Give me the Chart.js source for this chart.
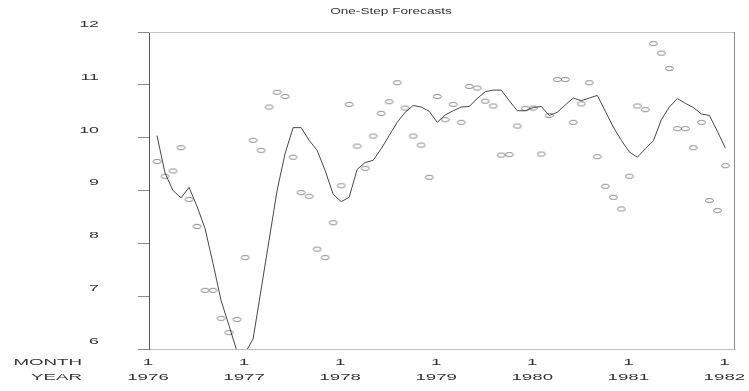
<!DOCTYPE html>
<html>
<head>
<meta charset="utf-8">
<script src="https://cdn.jsdelivr.net/npm/chart.js@4.4.0/dist/chart.umd.min.js"></script>
<style>
  html, body { margin: 0; padding: 0; background: #fff; }
  canvas { display: block; }
</style>
</head>
<body>
<canvas id="myChart" width="749" height="391"></canvas>
<script>
// months are counted from Jan 1976 = 0; the series start in Feb 1976
var firstMonth = 1;
var yearLabels = ['1976', '1977', '1978', '1979', '1980', '1981', '1982'];
var monthLabel = '1';
var yTicks = [6, 7, 8, 9, 10, 11, 12];

var forecast = [
    10.04, 9.33, 9.0, 8.86, 9.06, 8.70, 8.28, 7.62, 6.92, 6.44, 5.95,
    5.92, 6.19, 7.12, 8.06, 9.0, 9.7, 10.19, 10.19, 9.95, 9.76, 9.38, 8.93,
    8.79, 8.87, 9.4, 9.53, 9.57, 9.79, 10.04, 10.29, 10.48, 10.61, 10.58, 10.5,
    10.29, 10.43, 10.51, 10.58, 10.59, 10.74, 10.87, 10.9, 10.9, 10.7, 10.51, 10.51,
    10.57, 10.59, 10.42, 10.48, 10.62, 10.75, 10.7, 10.75, 10.8, 10.5, 10.2, 9.95,
    9.73, 9.63, 9.79, 9.94, 10.34, 10.58, 10.74, 10.65, 10.57, 10.45, 10.42, 10.12,
    9.8
];

var observed = [
    9.55, 9.27, 9.37, 9.81, 8.83, 8.32, 7.11, 7.11, 6.58, 6.31, 6.56,
    7.73, 9.95, 9.76, 10.58, 10.86, 10.78, 9.63, 8.96, 8.89, 7.89, 7.73, 8.39,
    9.09, 10.63, 9.84, 9.42, 10.03, 10.46, 10.68, 11.04, 10.56, 10.03, 9.86, 9.25,
    10.78, 10.34, 10.63, 10.29, 10.97, 10.94, 10.69, 10.6, 9.67, 9.68, 10.22, 10.55,
    10.56, 9.69, 10.42, 11.1, 11.1, 10.29, 10.64, 11.04, 9.64, 9.08, 8.87, 8.65,
    9.27, 10.6, 10.53, 11.78, 11.6, 11.31, 10.17, 10.17, 9.81, 10.29, 8.81, 8.62,
    9.47
];

// small open ellipse used as the point marker
var ellipse = document.createElement('canvas');
ellipse.width = 11;
ellipse.height = 7;
var ectx = ellipse.getContext('2d');
ectx.strokeStyle = '#555';
ectx.lineWidth = 0.7;
ectx.beginPath();
ectx.ellipse(5.5, 3.5, 4, 2.1, 0, 0, Math.PI * 2);
ectx.stroke();

var textFont = '8.5px "Liberation Sans", Arial, sans-serif';

// the reference text is squeezed vertically / stretched horizontally
function stretchText(ctx, text, x, y, align, sx) {
    ctx.save();
    ctx.translate(x, y);
    ctx.scale(sx, 1);
    ctx.textAlign = align;
    ctx.textBaseline = 'middle';
    ctx.fillText(text, 0, 0);
    ctx.restore();
}

var frameAndText = {
    id: 'frameAndText',
    afterDraw: function(chart) {
        var ctx = chart.ctx;
        var xs = chart.scales.x;
        var ys = chart.scales.y;
        var area = chart.chartArea;
        ctx.save();
        ctx.lineWidth = 1;
        ctx.strokeStyle = '#c4c4c4';
        ctx.beginPath();
        ctx.moveTo(area.left, area.top + 0.5);
        ctx.lineTo(area.right, area.top + 0.5);
        ctx.stroke();
        ctx.strokeStyle = '#8a8a8a';
        ctx.beginPath();
        ctx.moveTo(area.right - 0.5, area.top);
        ctx.lineTo(area.right - 0.5, area.bottom);
        ctx.stroke();

        ctx.fillStyle = '#333';
        ctx.font = textFont;
        stretchText(ctx, 'One-Step Forecasts', 391, 12, 'center', 1.6);
        yTicks.forEach(function(v) {
            stretchText(ctx, String(v), 99, ys.getPixelForValue(v) - 7.5, 'right', 2.1);
        });
        stretchText(ctx, 'MONTH', 82, 363, 'right', 2.2);
        stretchText(ctx, 'YEAR', 82, 378, 'right', 2.2);
        yearLabels.forEach(function(yr, i) {
            var px = xs.getPixelForValue(i * 12) - 1;
            stretchText(ctx, monthLabel, px, 363, 'center', 2.2);
            stretchText(ctx, yr, px, 378, 'center', 2.2);
        });
        ctx.restore();
    }
};

var ctx = document.getElementById('myChart').getContext('2d');
var myChart = new Chart(ctx, {
    type: 'line',
    data: {
        datasets: [
            {
                label: 'Forecast',
                data: forecast.map(function(v, i) { return {x: firstMonth + i, y: v}; }),
                borderColor: '#333',
                borderWidth: 0.9,
                pointRadius: 0,
                tension: 0,
                fill: false
            },
            {
                label: 'Observed',
                data: observed.map(function(v, i) { return {x: firstMonth + i, y: v}; }),
                showLine: false,
                pointStyle: ellipse,
                pointRadius: 4,
                borderWidth: 0
            }
        ]
    },
    options: {
        responsive: false,
        animation: false,
        devicePixelRatio: 1,
        layout: {
            padding: { top: 32, right: 14, left: 0, bottom: 0 }
        },
        plugins: {
            legend: { display: false },
            tooltip: { enabled: false },
            title: { display: false }
        },
        scales: {
            x: {
                type: 'linear',
                min: 0,
                max: 73.2,
                afterBuildTicks: function(s) {
                    s.ticks = yearLabels.map(function(y, i) { return {value: i * 12}; });
                },
                grid: { display: false },
                border: { display: true, color: '#bdbdbd' },
                ticks: { display: false },
                afterFit: function(s) { s.height = 42; }
            },
            y: {
                type: 'linear',
                min: 6,
                max: 12,
                afterBuildTicks: function(s) {
                    s.ticks = yTicks.map(function(v) { return {value: v}; });
                },
                grid: { drawOnChartArea: false, drawTicks: true, tickLength: 11, color: '#8a8a8a' },
                border: { display: true, color: '#555' },
                ticks: { color: 'rgba(0,0,0,0)', padding: 0 },
                afterFit: function(s) { s.width = 149; }
            }
        }
    },
    plugins: [frameAndText]
});
</script>
</body>
</html>
